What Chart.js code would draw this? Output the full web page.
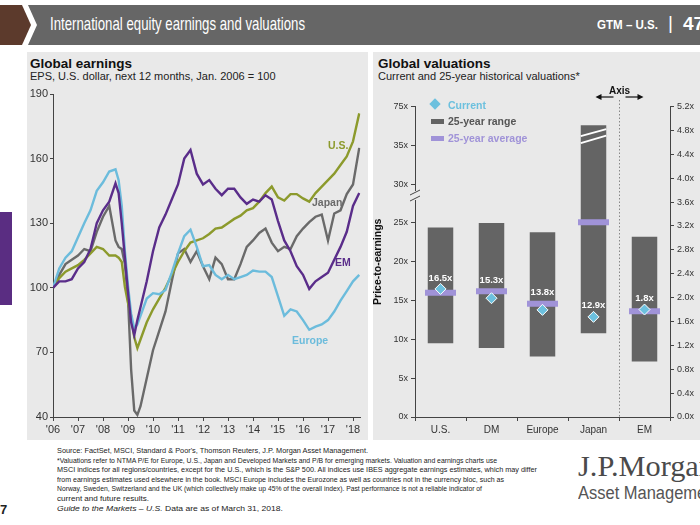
<!DOCTYPE html>
<html><head><meta charset="utf-8">
<script src="https://cdn.jsdelivr.net/npm/chart.js@4/dist/chart.umd.min.js"></script>
<style>
html,body{margin:0;padding:0;background:#fff;}
#page{position:relative;width:700px;height:525px;overflow:hidden;font-family:"Liberation Sans",Arial,sans-serif;color:#222;}
.abs{position:absolute;white-space:nowrap;}
.fit{transform-origin:left top;}
.foot{font-size:8px;line-height:9.6px;color:#222;}
.lbl{font-size:10.5px;font-weight:bold;}
.leg{font-size:10.5px;font-weight:bold;}
</style></head><body>
<div id="page">
  <div class="abs" style="left:0;top:5px;width:32px;height:40px;background:#5c3a2c;clip-path:polygon(0 0,22px 0,31px 50%,22px 100%,0 100%);"></div>
  <div class="abs" style="left:28px;top:5px;width:672px;height:40px;background:#666666;clip-path:polygon(0 0,100% 0,100% 100%,0 100%,9px 50%);"></div>
  <div class="abs fit" data-w="255" style="left:50px;top:13px;font-size:19px;color:#fff;">International equity earnings and valuations</div>
  <div class="abs fit" data-w="61" style="left:597px;top:17px;font-size:13px;font-weight:bold;color:#fff;">GTM – U.S.</div>
  <div class="abs" style="left:668px;top:12px;font-size:19px;color:#fff;">|</div>
  <div class="abs" style="left:683px;top:13px;font-size:19px;font-weight:bold;color:#fff;">47</div>

  <div class="abs" style="left:0;top:212px;width:12px;height:93px;background:#5a2d82;"></div>

  <div class="abs" style="left:27px;top:52px;width:341px;height:388px;background:#e9e9e9;"></div>
  <div class="abs" style="left:373px;top:52px;width:327px;height:388px;background:#e9e9e9;"></div>

  <div class="abs" style="left:30px;top:56px;font-size:13.5px;font-weight:bold;color:#111;">Global earnings</div>
  <div class="abs" style="left:30px;top:70px;font-size:11px;color:#222;">EPS, U.S. dollar, next 12 months, Jan. 2006 = 100</div>
  <div class="abs" style="left:378px;top:56px;font-size:13.5px;font-weight:bold;color:#111;">Global valuations</div>
  <div class="abs" style="left:378px;top:70px;font-size:11px;color:#222;">Current and 25-year historical valuations*</div>

  <div class="abs" style="left:27px;top:85px;width:341px;height:355px;"><canvas id="c1" width="341" height="355"></canvas></div>
  <div class="abs" style="left:372px;top:85px;width:328px;height:355px;"><canvas id="c2" width="328" height="355"></canvas></div>

  <div class="abs lbl" style="left:328px;top:139px;color:#8c9a2c;">U.S.</div>
  <div class="abs lbl" style="left:312px;top:196px;color:#6a6a6a;">Japan</div>
  <div class="abs lbl" style="left:335px;top:256px;color:#5a2d8a;">EM</div>
  <div class="abs lbl" style="left:292px;top:334px;color:#6cbcdc;">Europe</div>

  <div class="abs" style="left:431px;top:100px;width:8px;height:8px;background:#6cc0de;transform:rotate(45deg);"></div>
  <div class="abs leg" style="left:448px;top:99px;color:#6cc0de;">Current</div>
  <div class="abs" style="left:431px;top:119px;width:13px;height:5px;background:#636363;"></div>
  <div class="abs leg" style="left:448px;top:115px;color:#555;">25-year range</div>
  <div class="abs" style="left:431px;top:136px;width:13px;height:5px;background:#a093d8;"></div>
  <div class="abs leg" style="left:448px;top:132px;color:#a093d8;">25-year average</div>

  <div class="abs foot fit" data-w="311" style="left:57px;top:446px;">Source: FactSet, MSCI, Standard &amp; Poor's, Thomson Reuters, J.P. Morgan Asset Management.</div>
  <div class="abs foot fit" data-w="440" style="left:57px;top:455.6px;">*Valuations refer to NTMA P/E for Europe, U.S., Japan and Developed Markets and P/B for emerging markets. Valuation and earnings charts use</div>
  <div class="abs foot fit" data-w="480" style="left:57px;top:465.2px;">MSCI indices for all regions/countries, except for the U.S., which is the S&amp;P 500. All indices use IBES aggregate earnings estimates, which may differ</div>
  <div class="abs foot fit" data-w="447" style="left:57px;top:474.8px;">from earnings estimates used elsewhere in the book. MSCI Europe includes the Eurozone as well as countries not in the currency bloc, such as</div>
  <div class="abs foot fit" data-w="425" style="left:57px;top:484.4px;">Norway, Sweden, Switzerland and the UK (which collectively make up 45% of the overall index). Past performance is not a reliable indicator of</div>
  <div class="abs foot fit" data-w="92" style="left:57px;top:494px;">current and future results.</div>
  <div class="abs foot fit" data-w="226" style="left:57px;top:503.6px;"><i>Guide to the Markets – U.S.</i> Data are as of March 31, 2018.</div>
  <div class="abs" style="left:0px;top:502px;font-size:13px;font-weight:bold;">7</div>

  <div class="abs fit" data-w="136" style="left:578px;top:450px;font-family:'Liberation Serif',serif;font-size:29px;color:#4a4a4a;">J.P.Morgan</div>
  <div class="abs fit" data-w="142" style="left:578px;top:483px;font-size:18px;color:#555;">Asset Management</div>
</div>
<script>
// ---------- Global earnings (left) ----------
const dates = [2006.0,2006.25,2006.5,2006.75,2007.0,2007.25,2007.5,2007.75,
  2008.0,2008.25,2008.5,2008.625,2008.75,2008.875,
  2009.0,2009.125,2009.25,2009.375,2009.5,2009.75,
  2010.0,2010.25,2010.5,2010.75,2011.0,2011.25,2011.5,2011.75,
  2012.0,2012.25,2012.5,2012.75,2013.0,2013.25,2013.5,2013.75,
  2014.0,2014.25,2014.5,2014.75,2015.0,2015.25,2015.5,2015.75,
  2016.0,2016.25,2016.5,2016.75,2017.0,2017.25,2017.5,2017.75,
  2018.0,2018.25];
const europeEps = [100,109,114,117, 123.5,130,136,145, 149,154,155,150,138,117,
  101,88,81,83,87,95, 97.5,97,99,107, 116,124,127,119, 110,110.5,106,104,
  106,104,105,106, 108,107.5,107.5,105, 96,87,90,89, 85,80.5,82,83, 85,89,94,98.5, 103,106];
const emEps = [100,103,103,104, 109,112,118,130, 136,140,148.5,144,130,114,
  98,84,78,85,91,103, 117,128,134,141, 148,160,164,153, 148,150,146,143,
  146,146,142,139, 141,140,143,141, 131,122,117,110, 106,99.5,103,105, 107,113,119,126, 138,144];
const usEps = [100,104.5,107.5,109, 110.5,113,116,119, 118,115,115,114,112,100.5,
  93,87,77,72,76,84, 90,95,100,106, 112,117,121,122, 123,125,127.5,128,
  130,132,133.5,136, 137,140,144,147, 142,140.5,143.5,143.5, 141.5,140,144,147, 150,153,157,161, 168,181];
const japanEps = [100,106,111,113, 115,118,117,126, 133,138,122,119,118,111,
  95,62,43,41,45,58, 71,80,89,103, 116,118,112,117, 110,104,114,111,
  104,104,111,119, 122,125.5,127.5,121, 117,119,118,124, 127.5,130.5,133,134, 122,134.5,136,143.5, 148,165];
const yearTicks = [2006,2007,2008,2009,2010,2011,2012,2013,2014,2015,2016,2017,2018];
const epsTicks = [40,70,100,130,160,190];

// ---------- Global valuations (right) ----------
const categories = ['U.S.','DM','Europe','Japan','EM'];
const valAxis = ['pe','pe','pe','pe','pb'];   // EM is P/B on the right-hand axis
const rangeLow  = [9.5, 8.9, 7.8, 10.8, 0.93];
const rangeHigh = [24.4, 25.0, 23.8, 37.6, 3.02];
const avgVal    = [16.0, 16.2, 14.6, 25.1, 1.77];
const currentVal= [16.5, 15.3, 13.8, 12.9, 1.8];
const peTicks = [0,5,10,15,20,25,30,35,40];
const pbTicks = [0,0.4,0.8,1.2,1.6,2.0,2.4,2.8,3.2,3.6,4.0,4.4,4.8,5.2];

const FONT = '"Liberation Sans", Arial, sans-serif';
Chart.defaults.font.family = FONT;
Chart.defaults.color = '#333';

const toXY = arr => dates.map((d,i)=>({x:d,y:arr[i]}));
const lineDs = (label, arr, color) => ({label, data: toXY(arr), borderColor: color, borderWidth: 2.4,
  pointRadius: 0, tension: 0, fill: false});

new Chart(document.getElementById('c1'), {
  type: 'line',
  data: { datasets: [
    lineDs('EM', emEps, '#5a2d8a'),
    lineDs('Europe', europeEps, '#6cbcdc'),
    lineDs('U.S.', usEps, '#8c9a2c'),
    lineDs('Japan', japanEps, '#6a6a6a'),
  ]},
  options: {
    responsive: false, animation: false, devicePixelRatio: 1,
    layout: { padding: { top: 9, right: 7.5, left: 0, bottom: 0 } },
    plugins: { legend: { display: false }, tooltip: { enabled: false } },
    scales: {
      x: { type: 'linear', min: 2006, max: 2018.3,
        afterBuildTicks: s => { s.ticks = yearTicks.map(v=>({value:v})); },
        afterFit: s => { s.height = 23; },
        ticks: { callback: v => "'" + String(v).slice(2), maxRotation: 0, autoSkip: false, font: { size: 11 }, color: '#333', padding: 2 },
        grid: { drawOnChartArea: false, drawTicks: true, tickLength: 4, color: '#444' },
        border: { display: true, color: '#444' } },
      y: { min: 40, max: 190,
        afterBuildTicks: s => { s.ticks = epsTicks.map(v=>({value:v})); },
        afterFit: s => { s.width = 26; },
        ticks: { font: { size: 11 }, color: '#333', padding: 2 },
        grid: { drawOnChartArea: false, drawTicks: true, tickLength: 3, color: '#444' },
        border: { display: true, color: '#444' } }
    }
  }
});

const BG = '#e9e9e9';
const decoPlugin = {
  id: 'deco',
  afterDatasetsDraw(chart) {
    const ctx = chart.ctx, xa = chart.scales.x, ya = chart.scales.y, y1 = chart.scales.y1;
    ctx.save();
    // break marks on the Japan range bar
    const jm = chart.getDatasetMeta(0).data[3];
    if (jm) {
      const l = jm.x - jm.width/2, r = jm.x + jm.width/2, t = jm.y;
      ctx.strokeStyle = '#fff'; ctx.lineWidth = 2;
      ctx.beginPath(); ctx.moveTo(l, t+11); ctx.lineTo(r, t+4); ctx.stroke();
      ctx.beginPath(); ctx.moveTo(l, t+18); ctx.lineTo(r, t+10.5); ctx.stroke();
    }
    // current value labels
    ctx.font = 'bold 9.5px ' + FONT; ctx.fillStyle = '#fff'; ctx.textAlign = 'center'; ctx.textBaseline = 'middle';
    categories.forEach((c,i) => {
      const sc = valAxis[i] === 'pb' ? y1 : ya;
      const x = xa.getPixelForValue(i);
      const cy = sc.getPixelForValue(currentVal[i]), ay = sc.getPixelForValue(avgVal[i]);
      const top = (cy - ay) < 20 ? Math.min(cy, ay) : cy;
      ctx.fillText(currentVal[i].toFixed(1) + 'x', x, top - 11);
    });
    ctx.restore();
  },
  afterDraw(chart) {
    const ctx = chart.ctx, xa = chart.scales.x, area = chart.chartArea;
    ctx.save();
    // axis break on the P/E axis
    const ax = area.left;
    ctx.fillStyle = BG; ctx.fillRect(ax-2, 106, 4, 9);
    ctx.strokeStyle = '#444'; ctx.lineWidth = 1;
    ctx.beginPath(); ctx.moveTo(ax-5, 110); ctx.lineTo(ax+5, 105); ctx.stroke();
    ctx.beginPath(); ctx.moveTo(ax-5, 116); ctx.lineTo(ax+5, 111); ctx.stroke();
    // dotted separator between P/E and P/B
    const dx = Math.round((xa.getPixelForValue(3) + xa.getPixelForValue(4))/2) + 0.5;
    ctx.strokeStyle = '#888'; ctx.setLineDash([1.5, 2]);
    ctx.beginPath(); ctx.moveTo(dx, 15); ctx.lineTo(dx, area.bottom); ctx.stroke();
    ctx.setLineDash([]);
    // "Axis" label with arrows
    ctx.fillStyle = '#111'; ctx.font = 'bold 10px ' + FONT; ctx.textAlign = 'center'; ctx.textBaseline = 'middle';
    ctx.fillText('Axis', dx, 6);
    ctx.strokeStyle = '#111'; ctx.lineWidth = 1.2;
    const ay = 12;
    ctx.beginPath(); ctx.moveTo(dx-6, ay); ctx.lineTo(dx-20, ay); ctx.stroke();
    ctx.beginPath(); ctx.moveTo(dx-24, ay); ctx.lineTo(dx-18, ay-3); ctx.lineTo(dx-18, ay+3); ctx.closePath(); ctx.fill();
    ctx.beginPath(); ctx.moveTo(dx+6, ay); ctx.lineTo(dx+20, ay); ctx.stroke();
    ctx.beginPath(); ctx.moveTo(dx+24, ay); ctx.lineTo(dx+18, ay-3); ctx.lineTo(dx+18, ay+3); ctx.closePath(); ctx.fill();
    ctx.restore();
  }
};

const onPE = (arr) => arr.map((v,i) => valAxis[i] === 'pe' ? v : null);
const onPB = (arr) => arr.map((v,i) => valAxis[i] === 'pb' ? v : null);
const ranges = rangeLow.map((v,i) => [v, rangeHigh[i]]);

const barBase = { type: 'bar', backgroundColor: '#646464', borderWidth: 0, barPercentage: 0.5, categoryPercentage: 1.0, grouped: false, order: 3 };
const avgBase = { type: 'line', showLine: false, pointStyle: 'line', pointRadius: 15.5, pointHoverRadius: 15.5,
  pointBorderWidth: 6, pointHoverBorderWidth: 6, borderColor: '#a093d8', backgroundColor: '#a093d8', order: 2 };
const curBase = { type: 'line', showLine: false, pointStyle: 'rectRot', pointRadius: 5.5, pointHoverRadius: 5.5,
  pointBackgroundColor: '#6cc0de', pointBorderColor: '#ffffff', pointBorderWidth: 1, borderColor: '#6cc0de', order: 1 };

new Chart(document.getElementById('c2'), {
  data: {
    labels: categories,
    datasets: [
      Object.assign({}, barBase, { label: '25-year range', data: onPE(ranges), yAxisID: 'y' }),
      Object.assign({}, barBase, { label: '25-year range (P/B)', data: onPB(ranges), yAxisID: 'y1' }),
      Object.assign({}, avgBase, { label: '25-year average', data: onPE(avgVal), yAxisID: 'y' }),
      Object.assign({}, avgBase, { label: '25-year average (P/B)', data: onPB(avgVal), yAxisID: 'y1' }),
      Object.assign({}, curBase, { label: 'Current', data: onPE(currentVal), yAxisID: 'y' }),
      Object.assign({}, curBase, { label: 'Current (P/B)', data: onPB(currentVal), yAxisID: 'y1' }),
    ]
  },
  options: {
    responsive: false, animation: false, devicePixelRatio: 1,
    layout: { padding: { top: 8, right: 0, left: 0, bottom: 0 } },
    plugins: { legend: { display: false }, tooltip: { enabled: false } },
    scales: {
      x: { type: 'category', offset: true,
        afterFit: s => { s.height = 23; },
        ticks: { font: { size: 10 }, color: '#333', padding: 3 },
        grid: { offset: true, drawOnChartArea: false, drawTicks: true, tickLength: 4, color: '#444' },
        border: { display: true, color: '#444' } },
      y: { position: 'left', min: 0, max: 40,
        afterBuildTicks: s => { s.ticks = peTicks.map(v=>({value:v})); },
        afterFit: s => { s.width = 43; },
        ticks: { font: { size: 9 }, color: '#333', padding: 3, callback: v => v === 40 ? '75x' : v + 'x' },
        title: { display: true, text: 'Price-to-earnings', font: { size: 10.5, weight: 'bold' }, color: '#111', padding: { top: 0, bottom: 0 } },
        grid: { drawOnChartArea: false, drawTicks: true, tickLength: 4, color: '#444' },
        border: { display: true, color: '#444' } },
      y1: { position: 'right', min: 0, max: 5.2,
        afterBuildTicks: s => { s.ticks = pbTicks.map(v=>({value:v})); },
        afterFit: s => { s.width = 30; },
        ticks: { font: { size: 9 }, color: '#333', padding: 3, callback: v => v.toFixed(1) + 'x' },
        grid: { drawOnChartArea: false, drawTicks: true, tickLength: 4, color: '#444' },
        border: { display: true, color: '#444' } }
    }
  },
  plugins: [decoPlugin]
});

document.querySelectorAll('.fit').forEach(el => {
  const target = parseFloat(el.dataset.w);
  const w = el.getBoundingClientRect().width;
  if (w > 0) el.style.transform = 'scaleX(' + (target / w) + ')';
});
</script>
</body></html>
